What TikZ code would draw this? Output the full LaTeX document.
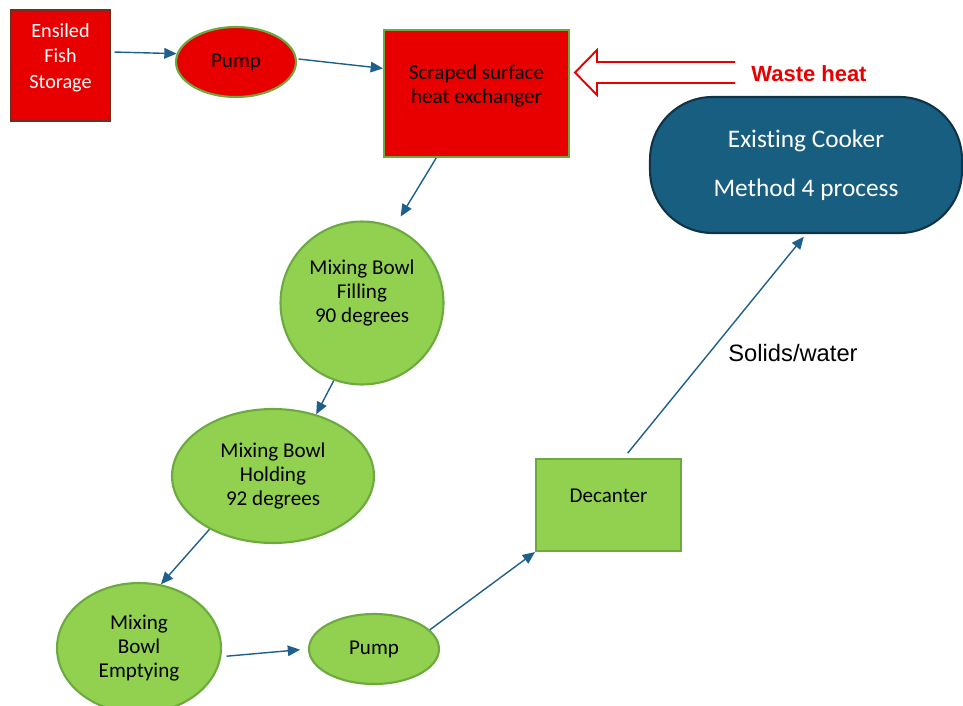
\documentclass[tikz,border=0pt]{standalone}
\usepackage{fontspec}
\setmainfont{Carlito}[Ligatures={NoCommon}]
\newfontfamily\arialfont{Liberation Sans}
\usetikzlibrary{positioning}
\usetikzlibrary{shapes.geometric}
\usetikzlibrary{arrows.meta}

\definecolor{hotred}{RGB}{232,0,0}
\definecolor{storebrown}{RGB}{112,48,32}
\definecolor{bowlgreen}{RGB}{146,208,80}
\definecolor{edgegreen}{RGB}{108,170,64}
\definecolor{flowblue}{RGB}{30,96,140}
\definecolor{cookerblue}{RGB}{24,94,128}
\definecolor{cookeredge}{RGB}{16,52,70}

\tikzset{
  small/.style={font=\fontsize{12}{13.6}\selectfont, align=center},
  hot/.style={small, fill=hotred, draw=edgegreen, line width=1.2pt},
  cool/.style={small, fill=bowlgreen, draw=edgegreen, line width=1.2pt},
  flow/.style={draw=flowblue, line width=0.8pt, -{Triangle[length=7pt,width=6pt]}},
}

\begin{document}
\begin{tikzpicture}[x=0.02cm, y=-0.02cm]
      \useasboundingbox (0,0) rectangle (963,706);

      \node[shape=rectangle, hot, draw=storebrown, minimum width=1.98cm, minimum height=2.22cm,
            label={[small, text=white, font=\fontsize{11.5}{14.5}\selectfont, yshift=0.16cm]center:Ensiled\\Fish\\Storage}] (store) at (60.5,65.5) {};
      \node[shape=ellipse, hot, minimum width=2.4cm, minimum height=1.4cm] (pumpa) at (236,62) {Pump};
      \node[shape=rectangle, hot, minimum width=3.7cm, minimum height=2.54cm,
            label={[small, yshift=0.15cm]center:Scraped surface\\heat exchanger}] (scraper) at (476.5,93.5) {};
      \node[font=\arialfont\bfseries\fontsize{12.5}{15}\selectfont, text=hotred] (waste) at (809,74) {Waste heat};
      % open hollow arrow for the waste heat
      \draw[hotred, line width=1.1pt, line join=miter] (735,62) -- (597,62) -- (597,50) -- (575,72.5) -- (597,95) -- (597,83) -- (735,83);
      \node[shape=rectangle, rounded corners=1.25cm, fill=cookerblue, draw=cookeredge, line width=1.2pt,
            minimum width=6.24cm, minimum height=2.72cm, text=white, align=center,
            font=\fontsize{14.4}{17}\selectfont] (cooker) at (806,165) {Existing Cooker\\[0.38cm]Method 4 process};

      \node[shape=ellipse, cool, minimum width=3.26cm, minimum height=3.26cm,
            label={[small, yshift=0.2cm]center:Mixing Bowl\\Filling\\90 degrees}] (filling) at (362,303) {};
      \node[shape=ellipse, cool, minimum width=4.04cm, minimum height=2.68cm] (holding) at (273,476) {Mixing Bowl\\Holding\\92 degrees};
      \node[shape=ellipse, cool, minimum width=3.28cm, minimum height=2.6cm] (emptying) at (139,648) {Mixing\\Bowl\\Emptying};
      \node[shape=ellipse, cool, minimum width=2.6cm, minimum height=1.4cm] (pumpb) at (374,649) {Pump};
      \node[shape=rectangle, cool, minimum width=2.9cm, minimum height=1.84cm,
            label={[small, yshift=0.18cm]center:Decanter}] (decanter) at (608.5,505) {};
      \node[font=\arialfont\fontsize{13.5}{16}\selectfont] (solids) at (793,353) {Solids/water};

      \draw[flow, shorten <=2pt] (store.15) -- (pumpa.172);
      \draw[flow, shorten <=1pt] (pumpa.3) -- (scraper.165);
      \draw[flow, shorten >=7pt] (scraper.238) -- (filling.67);
      \draw[flow] (filling.250) -- (holding.55);
      \draw[flow] (holding.220) -- (emptying.71);
      \draw[flow, shorten <=3pt, shorten >=4.5pt] (emptying.-6) -- (pumpb.180);
      \draw[flow] (pumpb.19) -- (decanter.south west);
      \draw[flow, shorten <=3.5pt, shorten >=2pt] (decanter.72) -- (cooker.south);
    \end{tikzpicture}
\end{document}
